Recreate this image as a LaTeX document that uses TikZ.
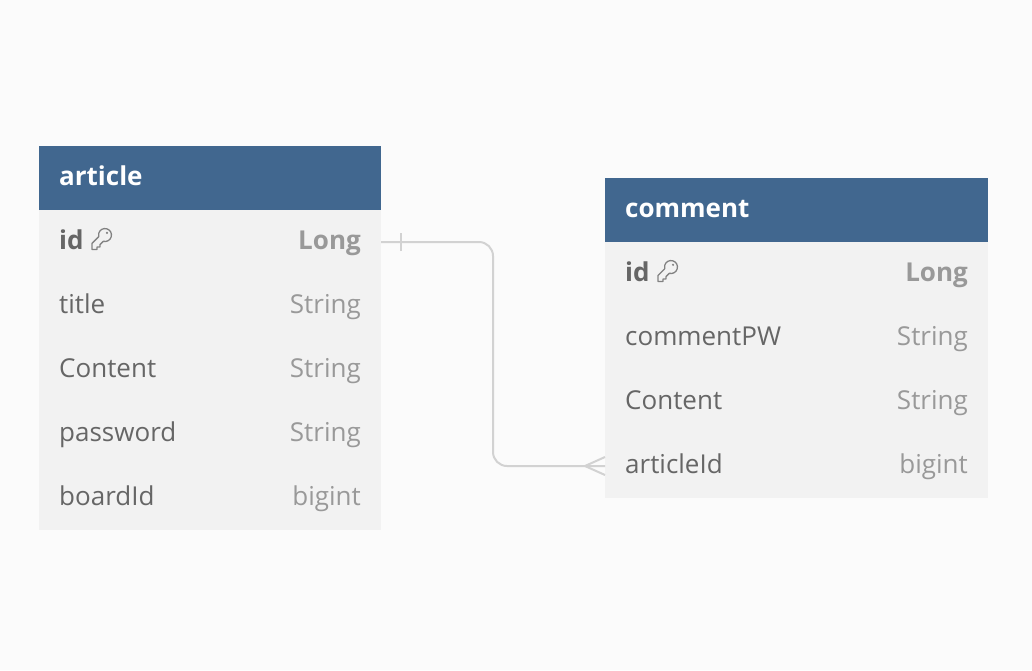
\documentclass[tikz,border=0pt]{standalone}
\usepackage{fontspec}
\setmainfont{Open Sans}
\usepackage{tikz}
\usetikzlibrary{positioning}
\definecolor{pagebg}{HTML}{FBFBFB}
\definecolor{headblue}{HTML}{41678F}
\definecolor{rowgray}{HTML}{F2F2F2}
\definecolor{nametxt}{HTML}{666666}
\definecolor{typetxt}{HTML}{999999}
\definecolor{linegray}{HTML}{D2D2D2}
\tikzset{
    headbox/.style={fill=headblue,inner sep=0pt,minimum height=64pt,outer sep=0pt},
    rowbox/.style={fill=rowgray,inner sep=0pt,minimum height=64pt,outer sep=0pt},
    headtxt/.style={anchor=base west,xshift=20pt,yshift=-7.5pt,inner sep=0pt,text=white,font=\fontsize{26}{30}\selectfont\bfseries},
    nametext/.style={anchor=base west,xshift=20pt,yshift=-7.5pt,inner sep=0pt,text=nametxt,font=\fontsize{26}{30}\selectfont},
    typetext/.style={anchor=base east,xshift=-20pt,yshift=-7.5pt,inner sep=0pt,text=typetxt,font=\fontsize{26}{30}\selectfont},
    connline/.style={draw=linegray,line width=2pt},
    keyicon/.pic={
        \draw[typetxt!85!black,line width=1.3pt,line join=round]
            (-1.7,6.3) arc (105:-195:6.5) -- (-13,8.4) -- (-13,14.5) -- (-8,14.5) -- (-8,12) -- (-5,12) -- (-5,9.6) -- cycle;
        \fill[typetxt!85!black] (2,-2.2) circle (1.2);
    }
}
\begin{document}
\begin{tikzpicture}[x=1pt,y=-1pt]
    \fill[pagebg] (0,0) rectangle (1032,670);
    \useasboundingbox (0,0) rectangle (1032,670);
    % article table
    \node[headbox,minimum width=342pt,anchor=north west] (article) at (39,146) {};
    \node[rowbox,minimum width=342pt,below=0pt of article] (articleid) {};
    \node[rowbox,minimum width=342pt,below=0pt of articleid] (articletitle) {};
    \node[rowbox,minimum width=342pt,below=0pt of articletitle] (articlecontent) {};
    \node[rowbox,minimum width=342pt,below=0pt of articlecontent] (articlepw) {};
    \node[rowbox,minimum width=342pt,below=0pt of articlepw] (articleboard) {};
    \node[headtxt] (articlehead) at (article.west) {article};
    \node[nametext,font=\fontsize{26}{30}\selectfont\bfseries] (aidname) at (articleid.west) {id};
    \node[typetext,font=\fontsize{26}{30}\selectfont\bfseries] (aidtype) at (articleid.east) {Long};
    \node[nametext] (atitlename) at (articletitle.west) {title};
    \node[typetext] (atitletype) at (articletitle.east) {String};
    \node[nametext] (acontentname) at (articlecontent.west) {Content};
    \node[typetext] (acontenttype) at (articlecontent.east) {String};
    \node[nametext] (apwname) at (articlepw.west) {password};
    \node[typetext] (apwtype) at (articlepw.east) {String};
    \node[nametext] (aboardname) at (articleboard.west) {boardId};
    \node[typetext] (aboardtype) at (articleboard.east) {bigint};
    \pic at (105,235) {keyicon};
    % comment table
    \node[headbox,minimum width=383pt,anchor=north west] (comment) at (605,178) {};
    \node[rowbox,minimum width=383pt,below=0pt of comment] (commentid) {};
    \node[rowbox,minimum width=383pt,below=0pt of commentid] (commentpw) {};
    \node[rowbox,minimum width=383pt,below=0pt of commentpw] (commentcontent) {};
    \node[rowbox,minimum width=383pt,below=0pt of commentcontent] (commentarticle) {};
    \node[headtxt] (commenthead) at (comment.west) {comment};
    \node[nametext,font=\fontsize{26}{30}\selectfont\bfseries] (cidname) at (commentid.west) {id};
    \node[typetext,font=\fontsize{26}{30}\selectfont\bfseries] (cidtype) at (commentid.east) {Long};
    \node[nametext] (cpwname) at (commentpw.west) {commentPW};
    \node[typetext] (cpwtype) at (commentpw.east) {String};
    \node[nametext] (ccontentname) at (commentcontent.west) {Content};
    \node[typetext] (ccontenttype) at (commentcontent.east) {String};
    \node[nametext] (carticlename) at (commentarticle.west) {articleId};
    \node[typetext] (carticletype) at (commentarticle.east) {bigint};
    \pic at (671,267) {keyicon};
    % connector
    \draw[connline,rounded corners=14pt] (articleid.east) -- ++(112,0) |- (commentarticle.west);
    \draw[connline] ([xshift=20pt,yshift=-9pt]articleid.east) -- ([xshift=20pt,yshift=9pt]articleid.east);
    \draw[connline] ([yshift=-9pt]commentarticle.west) -- ([xshift=-20pt]commentarticle.west) -- ([yshift=9pt]commentarticle.west);
\end{tikzpicture}
\end{document}
